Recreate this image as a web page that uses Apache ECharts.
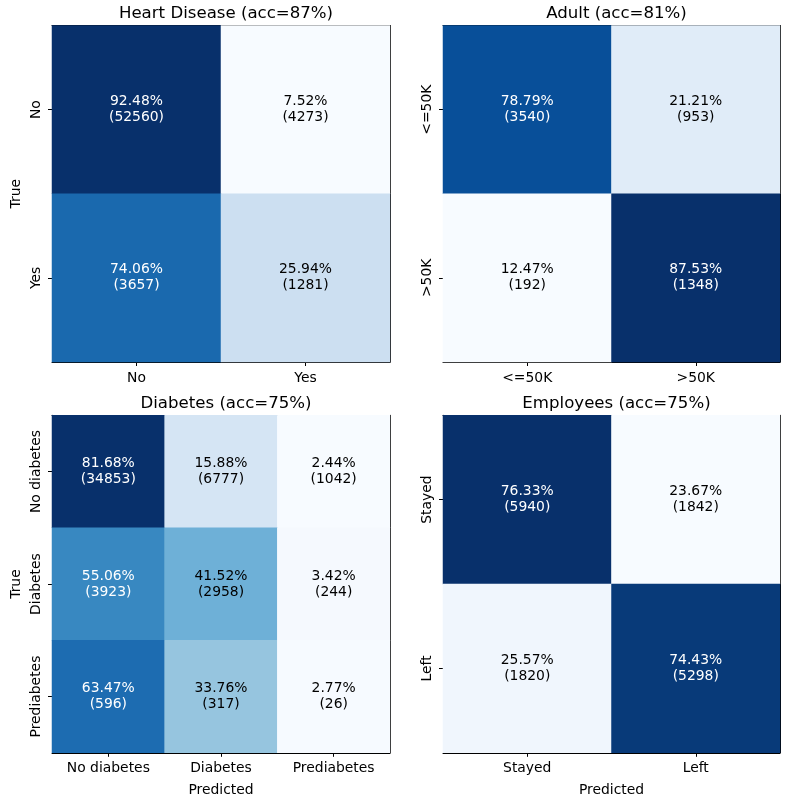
<!DOCTYPE html>
<html>
<head>
<meta charset="utf-8">
<script src="https://cdn.jsdelivr.net/npm/echarts@6/dist/echarts.min.js"></script>
<style>html,body{margin:0;padding:0;background:#fff}#c{width:800px;height:800px}</style>
</head>
<body>
<div id="c"></div>
<script>
// ---- data ----
const hdTitle = 'Heart Disease (acc=87%)';
const hdCats = ['No', 'Yes'];
const hdPct = [[92.48, 7.52], [74.06, 25.94]];
const hdCnt = [[52560, 4273], [3657, 1281]];

const adTitle = 'Adult (acc=81%)';
const adCats = ['<=50K', '>50K'];
const adPct = [[78.79, 21.21], [12.47, 87.53]];
const adCnt = [[3540, 953], [192, 1348]];

const diTitle = 'Diabetes (acc=75%)';
const diCats = ['No diabetes', 'Diabetes', 'Prediabetes'];
const diPct = [[81.68, 15.88, 2.44], [55.06, 41.52, 3.42], [63.47, 33.76, 2.77]];
const diCnt = [[34853, 6777, 1042], [3923, 2958, 244], [596, 317, 26]];

const emTitle = 'Employees (acc=75%)';
const emCats = ['Stayed', 'Left'];
const emPct = [[76.33, 23.67], [25.57, 74.43]];
const emCnt = [[5940, 1842], [1820, 5298]];

const blues = ['#f7fbff','#deebf7','#c6dbef','#9ecae1','#6baed6','#4292c6','#2171b5','#08519c','#08306b'];
const FONT = 'DejaVu Sans';
const FS = 13.9;

const panels = [
  {title: hdTitle, cats: hdCats, pct: hdPct, cnt: hdCnt, grid: {left: 52, top: 25.5, width: 338, height: 336.5}, yName: 'True', xName: ''},
  {title: adTitle, cats: adCats, pct: adPct, cnt: adCnt, grid: {left: 443, top: 25.5, width: 337, height: 336.5}, yName: '', xName: ''},
  {title: diTitle, cats: diCats, pct: diPct, cnt: diCnt, grid: {left: 52, top: 415.3, width: 338, height: 337.5}, yName: 'True', xName: 'Predicted'},
  {title: emTitle, cats: emCats, pct: emPct, cnt: emCnt, grid: {left: 443, top: 415.3, width: 337, height: 337.5}, yName: '', xName: 'Predicted'}
];

const option = {
  animation: false,
  backgroundColor: '#fff',
  textStyle: {fontFamily: FONT},
  title: [], grid: [], xAxis: [], yAxis: [], visualMap: [], series: []
};

panels.forEach((p, i) => {
  const flat = p.pct.flat();
  const mn = Math.min(...flat), mx = Math.max(...flat);
  const thr = (mn + mx) / 2;
  option.grid.push(Object.assign({containLabel: false}, p.grid));
  option.title.push({
    text: p.title,
    left: p.grid.left + p.grid.width / 2,
    top: p.grid.top - 25,
    textAlign: 'center',
    textStyle: {fontFamily: FONT, fontSize: 16.6, fontWeight: 'normal', color: '#000'}
  });
  const lineStyle = {color: '#000', width: 1};
  option.xAxis.push({
    type: 'category', gridIndex: i, data: p.cats, position: 'bottom',
    axisLine: {show: true, lineStyle}, axisTick: {show: true, alignWithLabel: true, length: 4, lineStyle},
    axisLabel: {color: '#000', fontFamily: FONT, fontSize: FS, margin: 9},
    splitLine: {show: false},
    name: p.xName, nameLocation: 'middle', nameGap: 31,
    nameTextStyle: {color: '#000', fontFamily: FONT, fontSize: FS}
  });
  option.yAxis.push({
    type: 'category', gridIndex: i, data: p.cats, inverse: true, position: 'left',
    axisLine: {show: true, lineStyle}, axisTick: {show: true, alignWithLabel: true, length: 4, lineStyle},
    axisLabel: {color: '#000', fontFamily: FONT, fontSize: FS, rotate: 90, margin: 9},
    splitLine: {show: false},
    name: p.yName, nameLocation: 'middle', nameGap: 29, nameRotate: 90,
    nameTextStyle: {color: '#000', fontFamily: FONT, fontSize: FS}
  });
  option.visualMap.push({
    type: 'continuous', show: false, seriesIndex: i, min: mn, max: mx, dimension: 2,
    inRange: {color: blues}
  });
  const data = [];
  p.pct.forEach((row, r) => row.forEach((v, c) => {
    data.push({
      value: [c, r, v, p.cnt[r][c]],
      label: {color: v > thr ? '#fff' : '#000'}
    });
  }));
  option.series.push({
    type: 'heatmap', xAxisIndex: i, yAxisIndex: i, data,
    label: {
      show: true, fontFamily: FONT, fontSize: FS, lineHeight: 16,
      formatter: d => d.value[2].toFixed(2) + '%\n(' + d.value[3] + ')'
    },
    itemStyle: {borderWidth: 0},
    emphasis: {disabled: true}
  });
});
// frame axes (top and right edges)
panels.forEach((p, i) => {
  option.xAxis.push({type: 'category', gridIndex: i, data: p.cats, position: 'top',
    axisLine: {show: true, lineStyle: {color: '#000', width: 1}}, axisTick: {show: false}, axisLabel: {show: false}, splitLine: {show: false}});
  option.yAxis.push({type: 'category', gridIndex: i, data: p.cats, position: 'right',
    axisLine: {show: true, lineStyle: {color: '#000', width: 1}}, axisTick: {show: false}, axisLabel: {show: false}, splitLine: {show: false}});
});

const chart = echarts.init(document.getElementById('c'));
chart.setOption(option);
</script>
</body>
</html>
